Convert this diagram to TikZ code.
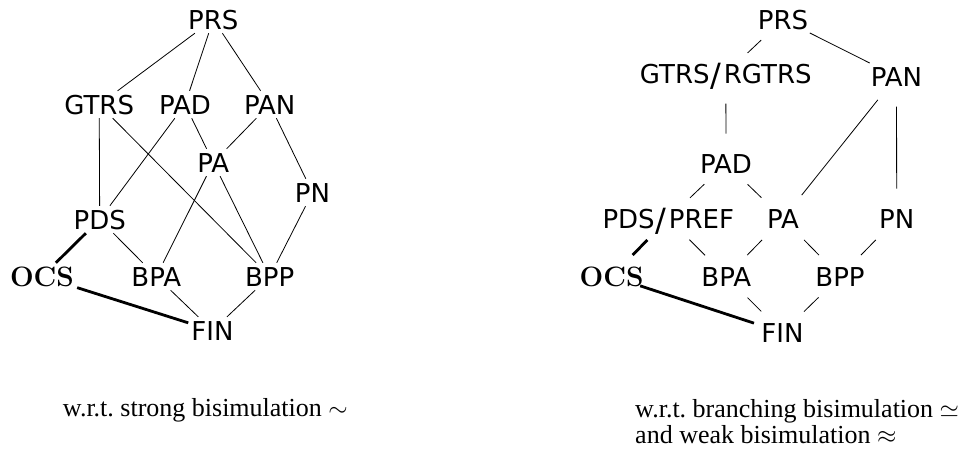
\documentclass[tikz,border=0pt]{standalone}
\usepackage{fontspec}
\newfontfamily\sflabel{DejaVu Sans}
\newfontfamily\capfont{Liberation Serif}
\newcommand{\slashsep}{\kern1pt\raisebox{-3.5pt}{\fontsize{32}{32}\selectfont/}\kern2.5pt}
\begin{document}
\begin{tikzpicture}[x=1pt,y=-1pt,
  lbl/.style={font=\sflabel\fontsize{26}{30}\selectfont, inner xsep=3pt, inner ysep=4pt,
              text height=19pt, text depth=0pt},
  boldlbl/.style={lbl, font=\bfseries\fontsize{28}{30}\selectfont},
  edge/.style={line width=0.8pt},
  thickedge/.style={line width=2.8pt},
  gap/.style={shorten <=30pt, shorten >=30pt},
  caption/.style={font=\capfont\fontsize{26}{26}\selectfont\frenchspacing, inner sep=0pt}]
\useasboundingbox (0,0) rectangle (963,453);

% ---------- hierarchy for strong bisimulation ----------
\node[lbl] (lPRS)  at (213.3,19.5)  {PRS};
\node[lbl] (lGTRS) at (99.2,104.5)  {GTRS};
\node[lbl] (lPAD)  at (185,104.5)   {PAD};
\node[lbl] (lPAN)  at (269.7,104.5) {PAN};
\node[lbl] (lPA)   at (213.3,162.5) {PA};
\node[lbl] (lPN)   at (312.5,192.5) {PN};
\node[lbl] (lPDS)  at (99.7,219.5)  {PDS};
\node[boldlbl] (lOCS) at (42,276.5) {OCS};
\node[lbl] (lBPA)  at (156.3,276.5) {BPA};
\node[lbl] (lBPP)  at (269.7,276.5) {BPP};
\node[lbl] (lFIN)  at (212.5,330.5) {FIN};

\draw[edge] (lPRS) -- (lGTRS);
\draw[edge] (lPRS) -- (lPAD);
\draw[edge] (lPRS) -- (lPAN);
\draw[edge] (lGTRS) -- (lPDS);
\draw[edge] (lGTRS) -- (lBPP);
\draw[edge] (lPAD) -- (lPDS);
\draw[edge] (lPAD) -- (lPA);
\draw[edge] (lPAN) -- (lPA);
\draw[edge] (lPAN) -- (lPN);
\draw[edge] (lPA) -- (lBPA);
\draw[edge] (lPA) -- (lBPP);
\draw[edge] (lPN) -- (lBPP);
\draw[edge] (lPDS) -- (lBPA);
\draw[edge] (lBPA) -- (lFIN);
\draw[edge] (lBPP) -- (lFIN);
\draw[thickedge] (lPDS) -- (lOCS);
\draw[thickedge] (lOCS) -- (lFIN);

\node[caption, anchor=base east] (lcap) at (348,416) {w.r.t. strong bisimulation $\sim$};

% ---------- hierarchy for branching and weak bisimulation ----------
\node[lbl] (rPRS) at (783,19.5)   {PRS};
\node[lbl] (rGR)  at (725.8,73.5) {GTRS\slashsep RGTRS};
\node[lbl] (rPAN) at (896.5,76.5) {PAN};
\node[lbl] (rPAD) at (726,163.5)  {PAD};
\node[lbl] (rPP)  at (668.3,218.5){PDS\slashsep PREF};
\node[lbl] (rPA)  at (783,218.5)  {PA};
\node[lbl] (rPN)  at (896.7,218.5){PN};
\node[boldlbl] (rOCS) at (611.7,276.5) {OCS};
\node[lbl] (rBPA) at (726.3,276.5){BPA};
\node[lbl] (rBPP) at (840,276.5)  {BPP};
\node[lbl] (rFIN) at (782.5,332.5){FIN};

\draw[edge,gap] (rPRS.center) -- (rGR.center);
\draw[edge,gap] (rPRS.center) -- (rPAN.center);
\draw[edge,gap] (rGR.center) -- (rPAD.center);
\draw[edge,gap] (rPAN.center) -- (rPA.center);
\draw[edge,gap] (rPAN.center) -- (rPN.center);
\draw[edge,gap] (rPAD.center) -- (rPP.center);
\draw[edge,gap] (rPAD.center) -- (rPA.center);
\draw[edge,gap] (rPP.center) -- (rBPA.center);
\draw[edge,gap] (rPA.center) -- (rBPA.center);
\draw[edge,gap] (rPA.center) -- (rBPP.center);
\draw[edge,gap] (rPN.center) -- (rBPP.center);
\draw[edge,gap] (rBPA.center) -- (rFIN.center);
\draw[edge,gap] (rBPP.center) -- (rFIN.center);
\draw[thickedge,gap] (rPP.center) -- (rOCS.center);
\draw[thickedge,gap] (rOCS.center) -- (rFIN.center);

% the base anchor of this two-line node lies on its last line
\node[caption, anchor=base west, align=left] (rcap) at (635,443)
  {w.r.t. branching bisimulation $\simeq$\\and weak bisimulation $\approx$};
\end{tikzpicture}
\end{document}
